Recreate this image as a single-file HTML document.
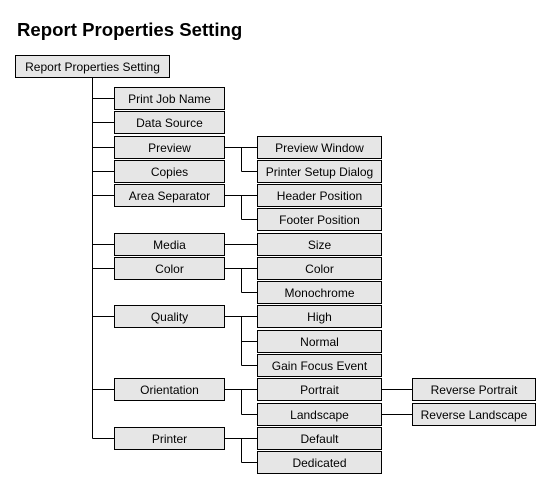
<!DOCTYPE html>
<html><head><meta charset="utf-8"><style>body{margin:0;background:#fff}svg{display:block}text{font-family:"Liberation Sans",Arial,sans-serif}</style></head><body>
<svg width="551" height="491" viewBox="0 0 551 491" xmlns="http://www.w3.org/2000/svg">
<text x="17" y="36" font-size="18.6" font-weight="bold" fill="#000">Report Properties Setting</text>
<g stroke="#000" stroke-width="1" fill="none">
<line x1="92.5" y1="77" x2="92.5" y2="438.5"/>
<!-- col1 stubs -->
<line x1="92.5" y1="98.5" x2="114" y2="98.5"/>
<line x1="92.5" y1="122.5" x2="114" y2="122.5"/>
<line x1="92.5" y1="147.5" x2="114" y2="147.5"/>
<line x1="92.5" y1="171.5" x2="114" y2="171.5"/>
<line x1="92.5" y1="195.5" x2="114" y2="195.5"/>
<line x1="92.5" y1="244.5" x2="114" y2="244.5"/>
<line x1="92.5" y1="268.5" x2="114" y2="268.5"/>
<line x1="92.5" y1="316.5" x2="114" y2="316.5"/>
<line x1="92.5" y1="389.5" x2="114" y2="389.5"/>
<line x1="92.5" y1="438.5" x2="114" y2="438.5"/>
<!-- col1 -> col2 -->
<line x1="225" y1="147.5" x2="257" y2="147.5"/><line x1="241.5" y1="147.5" x2="241.5" y2="171.5"/><line x1="241.5" y1="171.5" x2="257" y2="171.5"/>
<line x1="225" y1="195.5" x2="257" y2="195.5"/><line x1="241.5" y1="195.5" x2="241.5" y2="219.5"/><line x1="241.5" y1="219.5" x2="257" y2="219.5"/>
<line x1="225" y1="244.5" x2="257" y2="244.5"/>
<line x1="225" y1="268.5" x2="257" y2="268.5"/><line x1="241.5" y1="268.5" x2="241.5" y2="292.5"/><line x1="241.5" y1="292.5" x2="257" y2="292.5"/>
<line x1="225" y1="316.5" x2="257" y2="316.5"/><line x1="241.5" y1="316.5" x2="241.5" y2="365.5"/><line x1="241.5" y1="341.5" x2="257" y2="341.5"/><line x1="241.5" y1="365.5" x2="257" y2="365.5"/>
<line x1="225" y1="389.5" x2="257" y2="389.5"/><line x1="241.5" y1="389.5" x2="241.5" y2="414.5"/><line x1="241.5" y1="414.5" x2="257" y2="414.5"/>
<line x1="225" y1="438.5" x2="257" y2="438.5"/><line x1="241.5" y1="438.5" x2="241.5" y2="462.5"/><line x1="241.5" y1="462.5" x2="257" y2="462.5"/>
<!-- col2 -> col3 -->
<line x1="382" y1="389.5" x2="412" y2="389.5"/>
<line x1="382" y1="414.5" x2="412" y2="414.5"/>
</g>
<g fill="#e6e6e6" stroke="#000" stroke-width="1">
<rect x="15.5" y="55.5" width="154" height="22"/>
<rect x="114.5" y="87.5" width="110" height="22"/>
<rect x="114.5" y="111.5" width="110" height="22"/>
<rect x="114.5" y="136.5" width="110" height="22"/>
<rect x="114.5" y="160.5" width="110" height="22"/>
<rect x="114.5" y="184.5" width="110" height="22"/>
<rect x="114.5" y="233.5" width="110" height="22"/>
<rect x="114.5" y="257.5" width="110" height="22"/>
<rect x="114.5" y="305.5" width="110" height="22"/>
<rect x="114.5" y="378.5" width="110" height="22"/>
<rect x="114.5" y="427.5" width="110" height="22"/>
<rect x="257.5" y="136.5" width="124" height="22"/>
<rect x="257.5" y="160.5" width="124" height="22"/>
<rect x="257.5" y="184.5" width="124" height="22"/>
<rect x="257.5" y="208.5" width="124" height="22"/>
<rect x="257.5" y="233.5" width="124" height="22"/>
<rect x="257.5" y="257.5" width="124" height="22"/>
<rect x="257.5" y="281.5" width="124" height="22"/>
<rect x="257.5" y="305.5" width="124" height="22"/>
<rect x="257.5" y="330.5" width="124" height="22"/>
<rect x="257.5" y="354.5" width="124" height="22"/>
<rect x="257.5" y="378.5" width="124" height="22"/>
<rect x="257.5" y="403.5" width="124" height="22"/>
<rect x="257.5" y="427.5" width="124" height="22"/>
<rect x="257.5" y="451.5" width="124" height="22"/>
<rect x="412.5" y="378.5" width="123" height="22"/>
<rect x="412.5" y="403.5" width="123" height="22"/>
</g>
<g font-size="12" text-anchor="middle" fill="#000">
<text x="92.5" y="71">Report Properties Setting</text>
<text x="169.5" y="103">Print Job Name</text>
<text x="169.5" y="127">Data Source</text>
<text x="169.5" y="152">Preview</text>
<text x="169.5" y="176">Copies</text>
<text x="169.5" y="200">Area Separator</text>
<text x="169.5" y="249">Media</text>
<text x="169.5" y="273">Color</text>
<text x="169.5" y="321">Quality</text>
<text x="169.5" y="394">Orientation</text>
<text x="169.5" y="443">Printer</text>
<text x="319.5" y="152">Preview Window</text>
<text x="319.5" y="176">Printer Setup Dialog</text>
<text x="319.5" y="200">Header Position</text>
<text x="319.5" y="224">Footer Position</text>
<text x="319.5" y="249">Size</text>
<text x="319.5" y="273">Color</text>
<text x="319.5" y="297">Monochrome</text>
<text x="319.5" y="321">High</text>
<text x="319.5" y="346">Normal</text>
<text x="319.5" y="370">Gain Focus Event</text>
<text x="319.5" y="394">Portrait</text>
<text x="319.5" y="419">Landscape</text>
<text x="319.5" y="443">Default</text>
<text x="319.5" y="467">Dedicated</text>
<text x="474" y="394">Reverse Portrait</text>
<text x="474" y="419">Reverse Landscape</text>
</g>
</svg>
</body></html>
